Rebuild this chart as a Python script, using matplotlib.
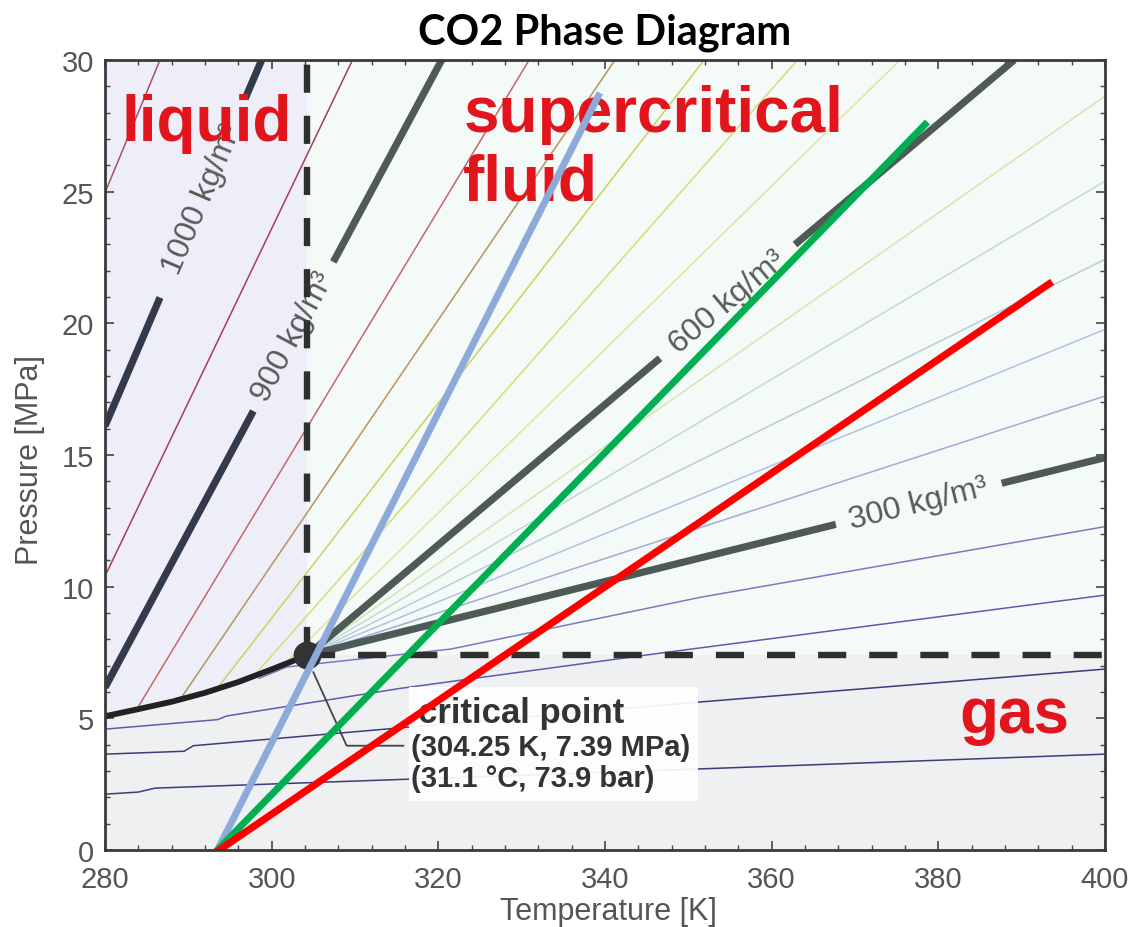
import numpy as np
import matplotlib
matplotlib.use("Agg")
import matplotlib.pyplot as plt
from matplotlib.patches import Polygon, Rectangle
from matplotlib.ticker import MultipleLocator

plt.rcParams['font.family'] = ['Liberation Sans', 'DejaVu Sans']

# axis ranges
T_RANGE = [280, 400]
P_RANGE = [0, 30]
T_TICKS = [280, 300, 320, 340, 360, 380, 400]
P_TICKS = [0, 5, 10, 15, 20, 25, 30]

# critical point of CO2
CRIT_T = 304.25
CRIT_P = 7.39

# liquid-vapour saturation curve up to the critical point
sat_T = [280.0, 284.0, 288.0, 292.0, 296.0, 300.0, 304.25]
sat_P = [5.08, 5.35, 5.63, 5.97, 6.38, 6.86, 7.39]

# labelled isochores (kg/m^3), straight between two (T, P) points
iso_1000_T = [280.0, 298.8]
iso_1000_P = [16.1, 30.0]
iso_900_T = [280.0, 320.4]
iso_900_P = [6.17, 30.0]
iso_600_T = [304.25, 389.1]
iso_600_P = [7.39, 30.0]
iso_300_T = [304.25, 400.0]
iso_300_P = [7.39, 14.9]

# unlabelled isochores: start and end points
thin_T0 = [280.0, 280.0, 283.8, 289.0, 293.4, 297.8, 301.4,
           304.25, 304.25, 304.25, 304.25, 304.25]
thin_P0 = [24.96, 10.4, 5.34, 5.71, 6.11, 6.59, 7.03,
           7.39, 7.39, 7.39, 7.39, 7.39]
thin_T1 = [286.6, 309.7, 330.9, 341.2, 351.9, 363.1, 375.4,
           400.0, 400.0, 400.0, 400.0, 400.0]
thin_P1 = [30.0, 30.0, 30.0, 30.0, 30.0, 30.0, 30.0,
           28.63, 25.4, 22.43, 19.77, 17.24]

# low-density isochores starting in the gas region
gas0_T = [298.5, 301.8, 321.5, 351.5, 400.0]
gas0_P = [6.52, 6.95, 7.63, 9.6, 12.28]
gas1_T = [280.0, 293.5, 294.6, 315.5, 347.2, 400.0]
gas1_P = [4.59, 4.95, 5.09, 6.14, 7.5, 9.68]
gas2_T = [280.0, 289.5, 290.6, 350.6, 400.0]
gas2_P = [3.64, 3.75, 3.96, 5.6, 6.87]
gas3_T = [280.0, 284.0, 286.0, 350.6, 400.0]
gas3_P = [2.12, 2.2, 2.35, 3.07, 3.64]

# straight compression paths starting from ambient temperature
blue_T = [293.5, 339.2]
blue_P = [0.0, 28.63]
green_T = [293.5, 378.4]
green_P = [0.0, 27.55]
red_T = [293.7, 393.3]
red_P = [0.0, 21.5]

# ---------------------------------------------------------------------------
fig = plt.figure(figsize=(11.39, 9.28), dpi=100)
ax = fig.add_axes([105 / 1139, 1 - 851 / 928, 1000 / 1139, 790 / 928])
ax.set_xlim(*T_RANGE)
ax.set_ylim(*P_RANGE)

# phase regions
gas_col = '#eef0f2'
liq_col = '#eeeef9'
sc_col = '#f3faf7'
ax.set_facecolor(gas_col)
liq_poly = list(zip(sat_T, sat_P)) + [(CRIT_T, P_RANGE[1]), (T_RANGE[0], P_RANGE[1])]
ax.add_patch(Polygon(liq_poly, closed=True, facecolor=liq_col, edgecolor='none', zorder=0.5))
ax.add_patch(Rectangle((CRIT_T, CRIT_P), T_RANGE[1] - CRIT_T, P_RANGE[1] - CRIT_P,
                       facecolor=sc_col, edgecolor='none', zorder=0.5))

# thin isochores
thin_colors = ['#a8506e', '#a83c5e', '#c8646c', '#b9925e', '#cfd05a', '#d3df72',
               '#d8e89c', '#d2e6b2', '#c2dcca', '#b6cedc', '#aec2e2', '#a2aada']
for t0, p0, t1, p1, c in zip(thin_T0, thin_P0, thin_T1, thin_P1, thin_colors):
    ax.plot([t0, t1], [p0, p1], color=c, lw=1.1, zorder=2, solid_capstyle='butt')

# gas-side isochores
for gT, gP, c in [(gas0_T, gas0_P, '#7a7ac2'), (gas1_T, gas1_P, '#5c5cae'),
                  (gas2_T, gas2_P, '#3c3c7c'), (gas3_T, gas3_P, '#3c3c7c')]:
    ax.plot(gT, gP, color=c, lw=1.1, zorder=2)


def screen_angle(T, P):
    (x0, y0), (x1, y1) = ax.transData.transform([(T[0], P[0]), (T[1], P[1])])
    return np.degrees(np.arctan2(y1 - y0, x1 - x0))


def labelled_isochore(T, P, gap, text, col_lo, col_hi):
    g0, g1 = gap
    p0 = np.interp(g0, T, P)
    p1 = np.interp(g1, T, P)
    ax.plot([T[0], g0], [P[0], p0], color=col_lo, lw=5.2, zorder=3, solid_capstyle='butt')
    ax.plot([g1, T[1]], [p1, P[1]], color=col_hi, lw=5.2, zorder=3, solid_capstyle='butt')
    tm = 0.5 * (g0 + g1)
    ax.text(tm, np.interp(tm, T, P), text, rotation=screen_angle(T, P),
            rotation_mode='anchor', ha='center', va='center', fontsize=23,
            color='#5a5a5a', zorder=3.5)


navy = '#333a4c'
slate = '#4e5a56'
labelled_isochore(iso_1000_T, iso_1000_P, (286.6, 296.8), '1000 kg/m³', navy, navy)
labelled_isochore(iso_900_T, iso_900_P, (297.8, 307.4), '900 kg/m³', navy, slate)
labelled_isochore(iso_600_T, iso_600_P, (346.6, 362.8), '600 kg/m³', slate, slate)
labelled_isochore(iso_300_T, iso_300_P, (367.7, 387.6), '300 kg/m³', slate, slate)

# saturation curve
ax.plot(sat_T, sat_P, color='#222222', lw=4.2, zorder=4, solid_capstyle='round',
        solid_joinstyle='round')

# critical isotherm / isobar
dash = dict(color='#2f2f2f', lw=4.6, dashes=(4.4, 3.6), zorder=4)
ax.plot([CRIT_T, CRIT_T], [CRIT_P, P_RANGE[1]], **dash)
ax.plot([CRIT_T, T_RANGE[1]], [CRIT_P, CRIT_P], **dash)
ax.plot([CRIT_T], [CRIT_P], 'o', color='#333333', ms=19, zorder=5)

# critical point annotation
ax.add_patch(Rectangle((316.5, 1.86), 34.6, 4.33, facecolor='white',
                       edgecolor='none', alpha=0.92, zorder=5))
ax.plot([305.0, 309.0, 315.8], [6.75, 3.96, 3.96], color='#444444', lw=1.3, zorder=5)
ax.text(317.5, 4.85, 'critical point', fontsize=25, fontweight='bold',
        color='#333333', zorder=6)
ax.text(316.7, 3.62, '(304.25 K, 7.39 MPa)', fontsize=21, fontweight='bold',
        color='#333333', zorder=6)
ax.text(316.7, 2.42, '(31.1 °C, 73.9 bar)', fontsize=21, fontweight='bold',
        color='#333333', zorder=6)

# phase names
red_txt = '#e2141c'
ax.text(282.0, 26.98, 'liquid', fontsize=46, fontweight='bold', color=red_txt, zorder=6)
ax.text(323.0, 27.3, 'supercritical', fontsize=46, fontweight='bold', color=red_txt, zorder=6)
ax.text(323.0, 24.7, 'fluid', fontsize=46, fontweight='bold', color=red_txt, zorder=6)
ax.text(382.5, 4.47, 'gas', fontsize=46, fontweight='bold', color=red_txt, zorder=6)

# process paths
ax.plot(blue_T, blue_P, color='#8eaadb', lw=5.0, zorder=8)
ax.plot(green_T, green_P, color='#00b050', lw=5.0, zorder=8)
ax.plot(red_T, red_P, color='#ff0000', lw=5.2, zorder=8)

# axes styling
ax.set_xticks(T_TICKS)
ax.set_yticks(P_TICKS)
ax.xaxis.set_minor_locator(MultipleLocator(4))
ax.yaxis.set_minor_locator(MultipleLocator(1))
ax.tick_params(which='both', direction='in', top=True, right=True, colors='#444444',
               labelcolor='#555555', labelsize=21)
ax.tick_params(which='major', length=6.5, width=1.2)
ax.tick_params(which='minor', length=3.5, width=1.0)
ax.tick_params(axis='x', pad=11)
ax.tick_params(axis='y', pad=8)
for s in ax.spines.values():
    s.set_color('#3a3a3a')
    s.set_linewidth(2.0)
    s.set_zorder(9)

fig.text(608 / 1139, 1 - 920 / 928, 'Temperature [K]', ha='center', va='baseline',
         fontsize=22, color='#555555')
fig.text(30 / 1139, 1 - 460 / 928, 'Pressure [MPa]', ha='center', va='center',
         rotation=90, fontsize=22, color='#555555')
fig.text(605 / 1139, 1 - 44 / 928, 'CO2 Phase Diagram', ha='center', va='baseline',
         fontsize=30, fontweight='bold', family=['Lato', 'DejaVu Sans'], color='black')

fig.savefig('out.png', dpi=100)
